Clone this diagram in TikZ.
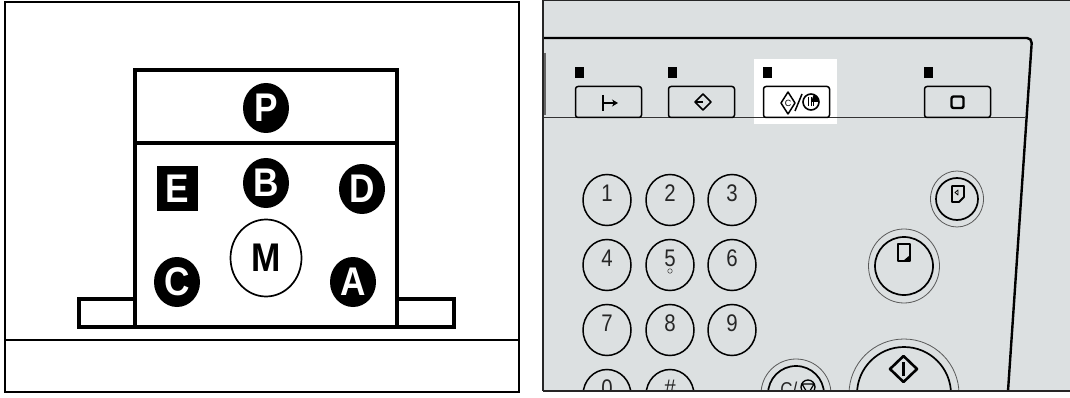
\documentclass[tikz,border=0pt]{standalone}
\usepackage{fontspec}
\setmainfont{Liberation Sans}
\newfontfamily\capfont[FakeStretch=0.88]{Liberation Sans}
\newfontfamily\digitfont[FakeStretch=0.85]{Liberation Sans}
\usetikzlibrary{arrows.meta,positioning,shapes.geometric}
\definecolor{panelgray}{HTML}{DCE0E1}
\begin{document}
\begin{tikzpicture}[x=1pt,y=-1pt,
  disc/.style={ellipse, fill=black, text=white, inner sep=0pt, minimum width=46pt, minimum height=50pt, font=\fontsize{40}{40}\capfont\bfseries},
  squarebox/.style={fill=black, text=white, inner sep=0pt, minimum width=41pt, minimum height=45pt, font=\fontsize{40}{40}\capfont\bfseries},
  keycap/.style={ellipse, draw, line width=1.5pt, minimum width=48pt, minimum height=51pt, inner sep=0pt},
  keydigit/.style={font=\fontsize{24}{24}\digitfont, text=black!85, inner sep=0pt},
  softkey/.style={draw, line width=1.5pt, rounded corners=2.5pt, minimum width=66pt, minimum height=31pt, inner sep=0pt},
  led/.style={fill=black, inner sep=0pt, minimum width=9pt, minimum height=11pt},
  icon/.style={line width=1.5pt, line join=round},
  ring/.style={draw=black!65, line width=0.8pt},
  roundkey/.style={draw, line width=1.7pt}
]
  \useasboundingbox (0,0) rectangle (1070,398);
  \fill[white] (0,0) rectangle (1070,398);

  \draw[line width=1.6pt] (5,2) rectangle (519,392);
  \draw[line width=1.3pt] (5,340) -- (519,340);
  \draw[line width=3.8pt, miter limit=10] (135,327) -- (135,299) -- (79,299) -- (79,327) -- (454,327) -- (454,299) -- (397,299) -- (397,327);
  \draw[line width=3.8pt] (135,70) rectangle (397,327);
  \draw[line width=3.8pt] (135,143) -- (397,143);
  \node[disc] (P) at (266,108) {P};
  \node[disc] (B) at (266,183) {B};
  \node[disc] (D) at (362,189) {D};
  \node[disc] (C) at (177,282) {C};
  \node[disc] (A) at (353,282) {A};
  \node[squarebox] (E) at (177,188.5) {E};
  \node[ellipse, draw, line width=1.7pt, minimum width=71pt, minimum height=77pt, inner sep=0pt, font=\fontsize{40}{40}\capfont\bfseries] (M) at (266,258) {M};

  \fill[panelgray] (543,1) rectangle (1070,391);
  \fill[white] (754,59) rectangle (837,124);
  \draw[line width=0.9pt, black!80] (543,117) -- (1025,117);
  \draw[line width=2.4pt, rounded corners=5pt] (543,38) -- (1032,38) -- (1008,391);
  \draw[line width=1.4pt, black!60] (545,53) -- (545,115);

  \node[softkey, fill=panelgray] (exit) at (608.5,102) {};
  \node[softkey, fill=panelgray] (enter) at (701.5,102) {};
  \node[softkey, fill=white] (mode) at (796.5,102) {};
  \node[softkey, fill=panelgray] (clear) at (957.5,102) {};
  \node[led, above=8pt of exit.north west, anchor=south west] (ledexit) {};
  \node[led, above=8pt of enter.north west, anchor=south west] (ledenter) {};
  \node[led, above=8pt of mode.north west, anchor=south west] (ledmode) {};
  \node[led, above=8pt of clear.north west, anchor=south west] (ledclear) {};

  \draw[icon, line width=1.8pt] (603,95) -- (603,111);
  \draw[icon, -{Stealth[length=6pt, width=7pt]}] (603,103) -- (618,103);
  \draw[icon] (703,94) -- (711,102) -- (703,110) -- (695,102) -- cycle;
  \draw[icon] (695,102) -- (703,102);
  \draw[icon] (788,92) -- (795,103) -- (788,114) -- (781,103) -- cycle;
  \node[font=\fontsize{9}{9}\selectfont, inner sep=0pt] (cmark) at (788,103) {C};
  \draw[icon] (795,111) -- (802,94);
  \node[circle, draw, line width=1.6pt, minimum size=16pt, inner sep=0pt] (wash) at (811,102) {};
  \fill (811,102) ++(0:8) arc (0:-70:8) -- (811,102) -- cycle;
  \foreach \dx in {-2.5,0,2.5} \draw[line width=0.7pt] (811+\dx,97) -- (811+\dx,106);
  \draw[icon, line width=2.4pt, rounded corners=2pt] (951.5,96.5) rectangle (963.5,108);

  \foreach \lab/\nx/\ny in {k1/607/200, k2/670/200, k3/732/200, k4/607/265, k5/670/265, k6/732/265, k7/607/330, k8/670/330, k9/732/330}
    \node[keycap] (\lab) at (\nx,\ny) {};
  \foreach \lab/\txt in {k1/1, k2/2, k3/3, k4/4, k5/5, k6/6, k7/7, k8/8, k9/9}
    \node[keydigit, yshift=7pt] (\lab txt) at (\lab) {\txt};
  \node[circle, draw=black!70, line width=0.6pt, minimum size=4.5pt, inner sep=0pt] (dot5) at (670,271) {};

  \node[ellipse, ring, minimum width=53pt, minimum height=56pt, inner sep=0pt] (previewring) at (957,199) {};
  \node[circle, roundkey, minimum size=42pt, inner sep=0pt] (previewkey) at (957,199) {};
  \node[ellipse, ring, minimum width=71pt, minimum height=74pt, inner sep=0pt] (copyring) at (904,266) {};
  \node[circle, roundkey, minimum size=58pt, inner sep=0pt] (copykey) at (904,266) {};
  \draw[icon, line width=1.8pt] (952,186) -- (964,186) -- (964,197) -- (959,202) -- (952,202) -- cycle;
  \draw[icon, line width=0.8pt] (958,190) -- (958,195) -- (955,192.5) -- cycle;
  \draw[icon, line width=2pt] (898,244) -- (910,244) -- (910,261) -- (898,261) -- cycle;
  \fill (903,261) -- (910,255) -- (910,261) -- cycle;

  \begin{scope}
    \clip (543,1) rectangle (1070,391);
    \node[keycap] (k0) at (607,395) {};
    \node[keycap] (khash) at (670,395) {};
    \node[keydigit, yshift=7pt] (k0txt) at (k0) {0};
    \node[keydigit, yshift=7pt] (khashtxt) at (khash) {\#};
    \node[circle, ring, minimum size=70pt, inner sep=0pt] (stopring) at (796,394) {};
    \node[circle, roundkey, minimum size=56pt, inner sep=0pt] (stopkey) at (796,394) {};
    \node[keydigit, font=\fontsize{20}{20}\digitfont, anchor=east, xshift=1.5pt] (stoplabel) at (796,389) {C/};
    \node[circle, draw, line width=1.3pt, minimum size=14pt, inner sep=0pt] (stopicon) at (808,387) {};
    \draw[icon, line width=1.2pt] (802,384) -- (814,384) -- (808,394) -- cycle;
    \node[circle, ring, minimum size=110pt, inner sep=0pt] (startring) at (904,394) {};
    \node[circle, roundkey, minimum size=94pt, inner sep=0pt] (startkey) at (904,394) {};
  \end{scope}
  \draw[icon, line width=2.6pt] (903.5,356) -- (917,369) -- (903.5,382) -- (890,369) -- cycle;
  \draw[line width=3.4pt] (903.5,362) -- (903.5,376);
  \draw[line width=1.8pt, black!85] (543,0.5) -- (1070,0.5);
  \draw[line width=2pt, black!85] (543,391) -- (1070,391);
  \draw[line width=1.6pt, black!85] (543,0) -- (543,391);
\end{tikzpicture}
\end{document}
